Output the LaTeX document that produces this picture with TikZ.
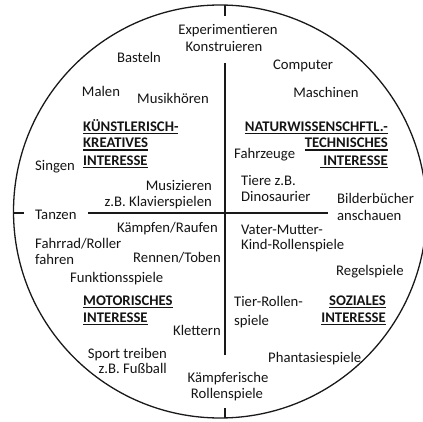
\documentclass[tikz,border=0pt]{standalone}
\usepackage{fontspec}
\setmainfont{Carlito}
% underlined bold heading line
\newcommand\headline[1]{\setbox0\hbox{\bfseries #1}\rlap{\rule[-2.6pt]{\wd0}{1.1pt}}\box0}
\begin{document}
\begin{tikzpicture}[x=1pt,y=-1pt,
  lbl/.style={inner sep=0pt, font=\fontsize{14.7}{17}\selectfont, text=black!92},
  lw/.style={lbl, anchor=base west},
  le/.style={lbl, anchor=base east},
  lc/.style={lbl, anchor=base},
  divider/.style={line width=1.4pt, black!90}]
\useasboundingbox (0,0) rectangle (423,422);
\begin{scope}
\clip (0,0) rectangle (423,422);
\draw[line width=1.3pt, black!90] (220,211.5) circle[radius=206.5];
\end{scope}

% dividing lines
\coordinate (vt0) at (225,5.1);   \coordinate (vt1) at (225,16);
\coordinate (vm0) at (225,63);    \coordinate (vm1) at (225,355);
\coordinate (vb0) at (225,408);   \coordinate (vb1) at (225,417.9);
\coordinate (hl0) at (13.6,213);  \coordinate (hl1) at (24,213);
\coordinate (hm0) at (88,213);    \coordinate (hm1) at (328,213);
\draw[divider] (vt0) -- (vt1);
\draw[divider] (vm0) -- (vm1);
\draw[divider] (vb0) -- (vb1);
\draw[divider] (hl0) -- (hl1);
\draw[divider] (hm0) -- (hm1);

% top
\node[lc] (exp) at (228,35) {Experimentieren};
\node[lc] (kon) at (224,52) {Konstruieren};

% upper left: artistic-creative
\node[lc] (bas) at (139,63) {Basteln};
\node[lc] (mal) at (101,97) {Malen};
\node[lc] (mus) at (173,104) {Musikhören};
\node[lw] (kh1) at (83,131.5) {\headline{KÜNSTLERISCH-}};
\node[lw] (kh2) at (83,148) {\headline{KREATIVES}};
\node[lw] (kh3) at (83,165.5) {\headline{INTERESSE}};
\node[lw] (sin) at (35,171) {Singen};
\node[le] (miz) at (212,190.5) {Musizieren};
\node[le] (kla) at (212,206.5) {z.B. Klavierspielen};

% upper right: science-technology
\node[lc] (com) at (303,70) {Computer};
\node[lc] (mas) at (326,98) {Maschinen};
\node[le] (nh1) at (388,131.5) {\headline{NATURWISSENSCHFTL.-}};
\node[le] (nh2) at (388,148) {\headline{TECHNISCHES}};
\node[le] (nh3) at (388,165.5) {\headline{\ INTERESSE}};
\node[lw] (fah) at (234,158.5) {Fahrzeuge};
\node[lw] (tie) at (241,185.5) {Tiere z.B.};
\node[lw] (din) at (241,201.5) {Dinosaurier};
\node[lw] (bil) at (337,204) {Bilderbücher};
\node[lw] (ans) at (337,220.5) {anschauen};

% lower left: motor
\node[lw] (tan) at (35,219) {Tanzen};
\node[lw] (kae) at (117,233) {Kämpfen/Raufen};
\node[lw] (fr1) at (35,248) {Fahrrad/Roller};
\node[lw] (fr2) at (35,264.5) {fahren};
\node[lw] (ren) at (133,262) {Rennen/Toben};
\node[lw] (fun) at (70,282) {Funktionsspiele};
\node[lw] (mh1) at (83,305.5) {\headline{MOTORISCHES}};
\node[lw] (mh2) at (83,322.5) {\headline{INTERESSE}};
\node[lw] (kle) at (173,335) {Klettern};
\node[le] (spo) at (167,358) {Sport treiben};
\node[le] (fus) at (167,373.5) {z.B. Fußball};

% bottom
\node[lc] (kpf) at (228,382) {Kämpferische};
\node[lc] (rol) at (227,398) {Rollenspiele};

% lower right: social
\node[lw] (vat) at (241,234) {Vater-Mutter-};
\node[lw] (kin) at (241,250) {Kind-Rollenspiele};
\node[lw] (reg) at (336,276) {Regelspiele};
\node[lw] (tr1) at (234,306.5) {Tier-Rollen-};
\node[lw] (tr2) at (234,325) {spiele};
\node[le] (sh1) at (386,305.5) {\headline{SOZIALES}};
\node[le] (sh2) at (386,322.5) {\headline{INTERESSE}};
\node[lw] (pha) at (268,362.5) {Phantasiespiele};
\end{tikzpicture}
\end{document}
